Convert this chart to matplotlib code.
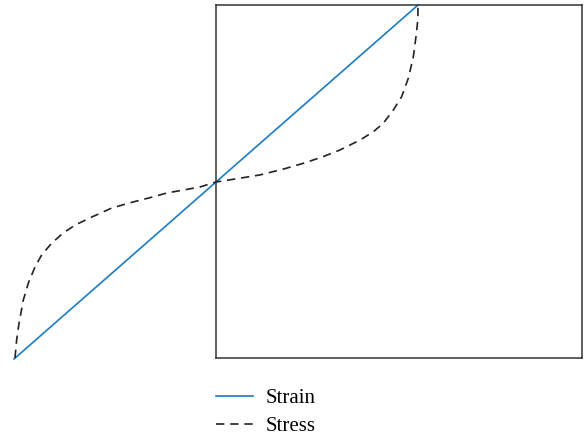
import matplotlib.pyplot as plt

# strain: straight line through the origin
strain_x = [-1.0, 1.0]
strain_y = [-1.0, 1.0]

# stress curve
stress_x = [-0.995, -0.987, -0.975, -0.954, -0.929, -0.896, -0.863, -0.813, -0.756,
            -0.697, -0.615, -0.516, -0.411, -0.325, -0.243, -0.160, -0.079, 0.0,
            0.100, 0.218, 0.340, 0.430, 0.523, 0.614, 0.713, 0.779, 0.828, 0.878,
            0.919, 0.952, 0.977, 0.990, 0.999, 1.0]
stress_y = [-0.994, -0.893, -0.797, -0.667, -0.571, -0.480, -0.412, -0.345, -0.288,
            -0.243, -0.198, -0.147, -0.113, -0.088, -0.062, -0.045, -0.028, 0.0,
            0.018, 0.040, 0.075, 0.105, 0.140, 0.181, 0.237, 0.284, 0.332, 0.407,
            0.482, 0.586, 0.708, 0.821, 0.915, 0.994]

plt.rcParams['font.family'] = ['Liberation Serif', 'DejaVu Serif']

fig = plt.figure(figsize=(5.87, 4.37), dpi=100)
ax = fig.add_axes([216 / 587, 79 / 437, 366 / 587, 353 / 437])
ax.set_xlim(0, 366 / 202)
ax.set_ylim(-176 / 177, 1.0)
ax.set_xticks([])
ax.set_yticks([])
for s in ax.spines.values():
    s.set_color('#333333')
    s.set_linewidth(1.1)

ax.plot(strain_x, strain_y, color='#1a7cc4', lw=1.2, clip_on=False, label='Strain')
ax.plot(stress_x, stress_y, color='#222222', lw=1.2, ls=(0, (5, 3.5)),
        clip_on=False, label='Stress')

# legend under the box
fig.legend(*ax.get_legend_handles_labels(), loc='upper left',
           bbox_to_anchor=(216 / 587, (437 - 388.5) / 437), frameon=False,
           fontsize=15, handlelength=1.78, handletextpad=0.58, labelspacing=0.4,
           borderpad=0, borderaxespad=0)

fig.savefig('out.png', dpi=100)
